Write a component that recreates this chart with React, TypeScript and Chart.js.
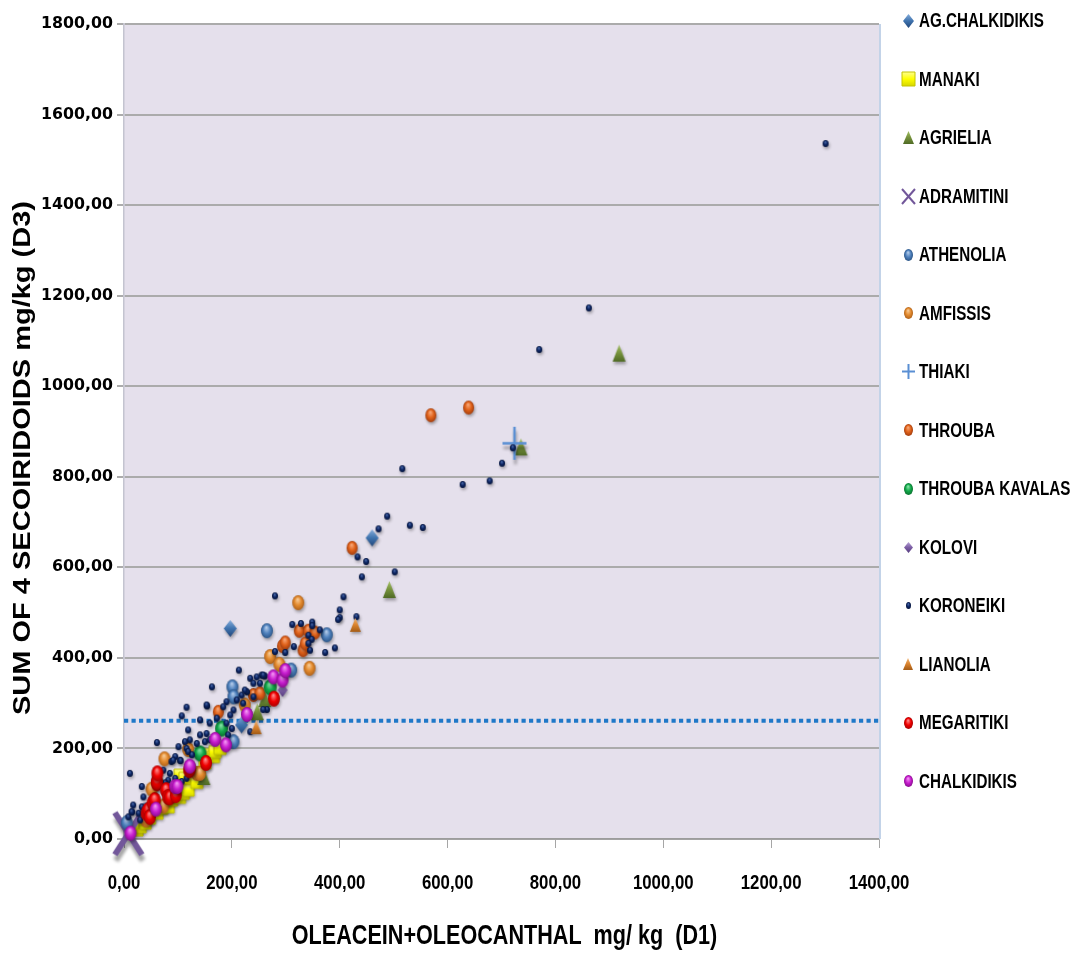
import React, { useEffect, useRef } from 'react';
import { Chart, registerables } from 'chart.js';

Chart.register(...registerables);

type Pt = [number, number];

// ---------------- DATA ----------------
const SERIES_NAMES = [
  'AG.CHALKIDIKIS', 'MANAKI', 'AGRIELIA', 'ADRAMITINI', 'ATHENOLIA', 'AMFISSIS', 'THIAKI',
  'THROUBA', 'THROUBA KAVALAS', 'KOLOVI', 'KORONEIKI', 'LIANOLIA', 'MEGARITIKI', 'CHALKIDIKIS',
];

const AG_CHALKIDIKIS: Pt[] = [[197, 465], [218, 252], [460, 665]];
const MANAKI: Pt[] = [[24, 20], [30, 27], [39, 35], [47, 46], [61, 57], [70, 68], [82, 71], [88, 86], [103, 92], [110, 101], [119, 108], [104, 141], [113, 134], [135, 125], [150, 168], [159, 186], [166, 182], [169, 193], [178, 200]];
const AGRIELIA: Pt[] = [[148, 138], [247, 281], [261, 310], [492, 551], [736, 866], [918, 1073]];
const ADRAMITINI: Pt[] = [[8, 12]];
const ATHENOLIA: Pt[] = [[5, 36], [41, 64], [203, 215], [201, 336], [203, 314], [265, 460], [310, 373], [376, 451]];
const AMFISSIS: Pt[] = [[41, 42], [51, 110], [73, 73], [75, 177], [119, 198], [135, 145], [141, 145], [224, 296], [271, 403], [288, 386], [323, 522], [344, 377]];
const THIAKI: Pt[] = [[724, 874]];
const THROUBA: Pt[] = [[175, 281], [240, 318], [252, 322], [294, 426], [299, 434], [325, 460], [332, 417], [336, 432], [342, 460], [354, 456], [423, 643], [569, 936], [639, 953]];
const THROUBA_KAVALAS: Pt[] = [[141, 189], [181, 244], [271, 335]];
const KOLOVI: Pt[] = [[294, 329]];
const KORONEIKI: Pt[] = [
  [1301, 1536], [862, 1173], [770, 1081], [721, 864], [701, 830], [516, 818], [628, 783], [678, 791],
  [488, 713], [530, 693], [554, 688], [472, 685], [433, 623], [449, 613], [441, 579], [502, 590],
  [407, 535], [400, 506], [400, 489], [397, 485], [431, 491], [280, 537], [312, 474], [328, 476],
  [349, 479], [349, 471], [363, 462], [342, 450], [348, 441], [342, 432], [345, 417], [315, 425],
  [299, 412], [280, 414], [373, 412], [391, 422], [255, 362], [261, 360], [213, 373], [163, 336],
  [116, 291], [107, 272], [154, 294], [234, 355], [246, 358], [258, 362], [240, 344], [252, 344],
  [228, 325], [240, 314], [209, 307], [221, 300], [190, 303], [184, 292], [203, 285], [197, 274],
  [218, 318], [224, 329], [265, 286], [258, 286], [153, 296], [141, 263], [159, 256], [172, 267],
  [190, 256], [200, 244], [193, 230], [234, 237], [119, 241], [122, 219], [113, 215], [141, 230],
  [135, 211], [150, 215], [153, 233], [159, 219], [61, 213], [101, 204], [116, 200], [95, 182],
  [88, 171], [104, 174], [119, 193], [126, 186], [73, 152], [85, 145], [95, 134], [82, 130],
  [76, 124], [107, 127], [116, 134], [11, 145], [33, 116], [36, 93], [17, 75], [15, 60],
  [8, 49], [27, 57], [30, 42], [91, 174], [105, 173], [33, 71], [14, 60],
];
const LIANOLIA: Pt[] = [[245, 247], [429, 473]];
const MEGARITIKI: Pt[] = [[42, 57], [45, 64], [48, 49], [53, 79], [57, 86], [61, 123], [61, 127], [62, 145], [78, 108], [82, 93], [85, 92], [96, 97], [121, 152], [122, 156], [152, 168], [278, 310]];
const CHALKIDIKIS: Pt[] = [[12, 13], [59, 66], [95, 116], [99, 116], [122, 161], [169, 220], [189, 208], [228, 275], [277, 358], [294, 351], [299, 372]];

const THRESHOLD = 261;

const X_MIN = 0, X_MAX = 1400, X_STEP = 200;
const Y_MIN = 0, Y_MAX = 1800, Y_STEP = 200;

const X_TITLE = 'OLEACEIN+OLEOCANTHAL  mg/ kg  (D1)';
const Y_TITLE = 'SUM OF 4 SECOIRIDOIDS mg/kg (D3)';

const SERIES_DATA: Pt[][] = [
  AG_CHALKIDIKIS, MANAKI, AGRIELIA, ADRAMITINI, ATHENOLIA, AMFISSIS, THIAKI,
  THROUBA, THROUBA_KAVALAS, KOLOVI, KORONEIKI, LIANOLIA, MEGARITIKI, CHALKIDIKIS,
];

// ---------------- STYLE ----------------
const FONT_SANS = "'Liberation Sans', Arial, sans-serif";
const FONT_Y_TICKS = "'DejaVu Sans', Verdana, sans-serif";

type Shape = 'sphere' | 'diamond' | 'square' | 'triangle' | 'x' | 'cross';
interface MarkerSpec { shape: Shape; w: number; h: number; base: string; light: string; dark: string; lw?: number }

const COLORS: { shape: Shape; base: string; light: string; dark: string }[] = [
  { shape: 'diamond', base: '#3F73AE', light: '#86AEDC', dark: '#22467A' },
  { shape: 'square', base: '#FFFF00', light: '#FFFF90', dark: '#D6D600' },
  { shape: 'triangle', base: '#76923C', light: '#A3C064', dark: '#4F6A25' },
  { shape: 'x', base: '#72579A', light: '#A08AC0', dark: '#5A4478' },
  { shape: 'sphere', base: '#4F81BD', light: '#B5CDEB', dark: '#2C5688' },
  { shape: 'sphere', base: '#E38A2E', light: '#F8CC98', dark: '#B0621A' },
  { shape: 'cross', base: '#5A8FD3', light: '#5A8FD3', dark: '#5A8FD3' },
  { shape: 'sphere', base: '#E0621A', light: '#F8A878', dark: '#A43E0E' },
  { shape: 'sphere', base: '#12A84A', light: '#88E6A8', dark: '#0A7430' },
  { shape: 'diamond', base: '#7D5FA5', light: '#B6A2D6', dark: '#553C7E' },
  { shape: 'sphere', base: '#0C2461', light: '#4A6AAA', dark: '#05143C' },
  { shape: 'triangle', base: '#D9822D', light: '#F2B676', dark: '#A45C16' },
  { shape: 'sphere', base: '#F00000', light: '#FF8C8C', dark: '#AA0000' },
  { shape: 'sphere', base: '#C81ECF', light: '#F496F4', dark: '#8A0C90' },
];

// marker sizes [w, h, lineWidth] in plot and in legend
const PLOT_SIZES: [number, number, number][] = [
  [13, 17, 0], [12, 12, 0], [13, 17, 0], [27, 42, 6], [12, 15, 0], [12, 15, 0], [24, 33, 2.5],
  [11, 14, 0], [13, 16, 0], [10, 14, 0], [6, 7, 0], [11, 14, 0], [12, 16, 0], [12, 15, 0],
];
const LEGEND_SIZES: [number, number, number][] = [
  [11, 14, 0], [13, 14, 0], [11, 13, 0], [13, 15, 2], [9, 12, 0], [9, 12, 0], [13, 15, 2],
  [9, 12, 0], [9, 12, 0], [9, 11, 0], [5, 7, 0], [10, 12, 0], [9, 12, 0], [9, 12, 0],
];

function fmt(v: number | string): string {
  return Number(v).toFixed(2).replace('.', ',');
}

function makeMarker(spec: MarkerSpec, shadow: boolean): HTMLCanvasElement {
  const pad = Math.max(5, Math.ceil(spec.h * 0.3));
  const W = Math.ceil(spec.w) + pad * 2;
  const H = Math.ceil(spec.h) + pad * 2;
  const c = document.createElement('canvas');
  c.width = W;
  c.height = H;
  const ctx = c.getContext('2d') as CanvasRenderingContext2D;
  const cx = W / 2, cy = H / 2, rw = spec.w / 2, rh = spec.h / 2;
  const lw = spec.lw || 2;

  const path = (ox: number, oy: number) => {
    ctx.beginPath();
    const x = cx + ox, y = cy + oy;
    switch (spec.shape) {
      case 'sphere': ctx.ellipse(x, y, rw, rh, 0, 0, Math.PI * 2); break;
      case 'diamond': ctx.moveTo(x, y - rh); ctx.lineTo(x + rw, y); ctx.lineTo(x, y + rh); ctx.lineTo(x - rw, y); ctx.closePath(); break;
      case 'square': ctx.rect(x - rw, y - rh, rw * 2, rh * 2); break;
      case 'triangle': ctx.moveTo(x, y - rh); ctx.lineTo(x + rw, y + rh); ctx.lineTo(x - rw, y + rh); ctx.closePath(); break;
      case 'x': ctx.moveTo(x - rw, y - rh); ctx.lineTo(x + rw, y + rh); ctx.moveTo(x + rw, y - rh); ctx.lineTo(x - rw, y + rh); break;
      case 'cross': ctx.moveTo(x, y - rh); ctx.lineTo(x, y + rh); ctx.moveTo(x - rw, y); ctx.lineTo(x + rw, y); break;
    }
  };
  const stroked = spec.shape === 'x' || spec.shape === 'cross';

  if (shadow) {
    ctx.save();
    ctx.filter = 'blur(1.6px)';
    path(1, Math.max(2, spec.h * 0.14));
    if (stroked) {
      ctx.strokeStyle = 'rgba(0,0,0,0.35)';
      ctx.lineWidth = lw;
      ctx.stroke();
    } else {
      ctx.fillStyle = 'rgba(0,0,0,0.32)';
      ctx.fill();
    }
    ctx.restore();
  }

  if (stroked) {
    path(0, 0);
    ctx.strokeStyle = spec.base;
    ctx.lineWidth = lw;
    ctx.lineCap = 'butt';
    ctx.stroke();
    return c;
  }

  if (spec.shape === 'sphere') {
    ctx.save();
    ctx.translate(cx, cy);
    ctx.scale(rw, rh);
    const g = ctx.createRadialGradient(-0.1, -0.45, 0.05, 0, 0, 1);
    g.addColorStop(0, spec.light);
    g.addColorStop(0.55, spec.base);
    g.addColorStop(1, spec.dark);
    ctx.fillStyle = g;
    ctx.beginPath();
    ctx.arc(0, 0, 1, 0, Math.PI * 2);
    ctx.fill();
    ctx.restore();
  } else {
    const g = ctx.createLinearGradient(cx, cy - rh, cx, cy + rh);
    g.addColorStop(0, spec.light);
    g.addColorStop(0.5, spec.base);
    g.addColorStop(1, spec.dark);
    path(0, 0);
    ctx.fillStyle = g;
    ctx.fill();
    if (spec.shape === 'square') {
      ctx.strokeStyle = '#C4C400';
      ctx.lineWidth = 1;
      ctx.stroke();
    }
  }
  return c;
}

// draw text squeezed horizontally (the reference artwork is horizontally condensed)
function squeezedText(ctx: CanvasRenderingContext2D, text: string, x: number, y: number, sx: number, align: CanvasTextAlign) {
  ctx.save();
  ctx.translate(x, y);
  ctx.scale(sx, 1);
  ctx.textAlign = align;
  ctx.fillText(text, 0, 0);
  ctx.restore();
}

export default function App() {
  const ref = useRef<HTMLCanvasElement>(null);

  useEffect(() => {
    if (!ref.current) return;

    const plotImgs = COLORS.map((c, i) => makeMarker({ ...c, w: PLOT_SIZES[i][0], h: PLOT_SIZES[i][1], lw: PLOT_SIZES[i][2] }, true));
    const legendImgs = COLORS.map((c, i) => makeMarker({ ...c, w: LEGEND_SIZES[i][0], h: LEGEND_SIZES[i][1], lw: LEGEND_SIZES[i][2] }, false));

    const datasets: any[] = SERIES_NAMES.map((name, i) => ({
      type: 'scatter',
      label: name,
      data: SERIES_DATA[i].map(([x, y]) => ({ x, y })),
      pointStyle: plotImgs[i],
      pointRadius: 5,
      pointHoverRadius: 5,
      showLine: false,
      clip: false,
      order: 50 - i,
    }));
    datasets.push({
      type: 'line',
      label: 'threshold',
      data: [{ x: X_MIN, y: THRESHOLD }, { x: X_MAX, y: THRESHOLD }],
      borderColor: '#1F78C8',
      borderWidth: 4,
      borderDash: [4.2, 3.3],
      pointRadius: 0,
      fill: false,
      order: 100,
    });

    const bgPlugin = {
      id: 'plotBg',
      beforeDraw(chart: any) {
        const { ctx, chartArea: a } = chart;
        ctx.save();
        ctx.fillStyle = '#E5E0EC';
        ctx.fillRect(a.left, a.top, a.right - a.left, a.bottom - a.top);
        ctx.restore();
      },
      beforeDatasetsDraw(chart: any) {
        const { ctx, chartArea: a } = chart;
        ctx.save();
        ctx.strokeStyle = '#C3D3E8';
        ctx.lineWidth = 2;
        ctx.beginPath();
        ctx.moveTo(a.right + 1, a.top);
        ctx.lineTo(a.right + 1, a.bottom);
        ctx.stroke();
        ctx.restore();
      },
    };

    const textPlugin = {
      id: 'condensedText',
      afterDraw(chart: any) {
        const ctx: CanvasRenderingContext2D = chart.ctx;
        const xs = chart.scales.x;
        const a = chart.chartArea;
        ctx.save();
        ctx.fillStyle = '#000';
        ctx.textBaseline = 'middle';

        // x tick labels
        ctx.font = `bold 21px ${FONT_SANS}`;
        xs.ticks.forEach((t: any) => {
          squeezedText(ctx, fmt(t.value), xs.getPixelForValue(t.value), 883, 0.8, 'center');
        });

        // x title
        ctx.font = `bold 27px ${FONT_SANS}`;
        squeezedText(ctx, X_TITLE, (a.left + a.right) / 2 + 3, 937, 0.8, 'center');

        // y title (rotated, squeezed across its glyph height)
        ctx.save();
        ctx.translate(23, 458);
        ctx.rotate(-Math.PI / 2);
        ctx.scale(1, 0.82);
        ctx.font = `bold 29px ${FONT_SANS}`;
        ctx.textAlign = 'center';
        ctx.fillText(Y_TITLE, 0, 0);
        ctx.restore();

        // legend
        ctx.font = `bold 20px ${FONT_SANS}`;
        SERIES_NAMES.forEach((name, i) => {
          const y = 20.5 + i * 58.5;
          const img = legendImgs[i];
          ctx.drawImage(img, Math.round(908 - img.width / 2), Math.round(y - img.height / 2));
          squeezedText(ctx, name, 919, y + 1, 0.76, 'left');
        });
        ctx.restore();
      },
    };

    const chart = new Chart(ref.current, {
      type: 'scatter',
      data: { datasets },
      options: {
        responsive: false,
        animation: false,
        devicePixelRatio: 1,
        events: [],
        layout: { padding: { top: 24, right: 202, left: 0, bottom: 0 } },
        plugins: { legend: { display: false }, tooltip: { enabled: false } },
        scales: {
          x: {
            type: 'linear',
            min: X_MIN,
            max: X_MAX,
            ticks: {
              stepSize: X_STEP,
              callback: (v: any) => fmt(v),
              display: false,
            },
            grid: { drawOnChartArea: false, drawTicks: true, tickLength: 9, color: '#A6A6A6', lineWidth: 1 },
            border: { color: '#9C9C9C', width: 1.5 },
            title: { display: false, text: X_TITLE },
            afterFit: (s: any) => { s.height = 115; },
          },
          y: {
            type: 'linear',
            min: Y_MIN,
            max: Y_MAX,
            ticks: {
              stepSize: Y_STEP,
              callback: (v: any) => fmt(v),
              font: { family: FONT_Y_TICKS, size: 15.8, weight: 'bold' },
              color: '#000',
              padding: 4,
            },
            grid: { color: '#ABABAB', lineWidth: 2, tickLength: 7 },
            border: { color: '#C4C4D0', width: 1.5 },
            title: { display: false, text: Y_TITLE },
            afterFit: (s: any) => { s.width = 124; },
          },
        },
      } as any,
      plugins: [bgPlugin, textPlugin],
    });

    return () => chart.destroy();
  }, []);

  return (
    <div style={{ position: 'absolute', left: 0, top: 0, width: 1081, height: 954, background: '#fff' }}>
      <canvas ref={ref} width={1081} height={954} />
    </div>
  );
}
